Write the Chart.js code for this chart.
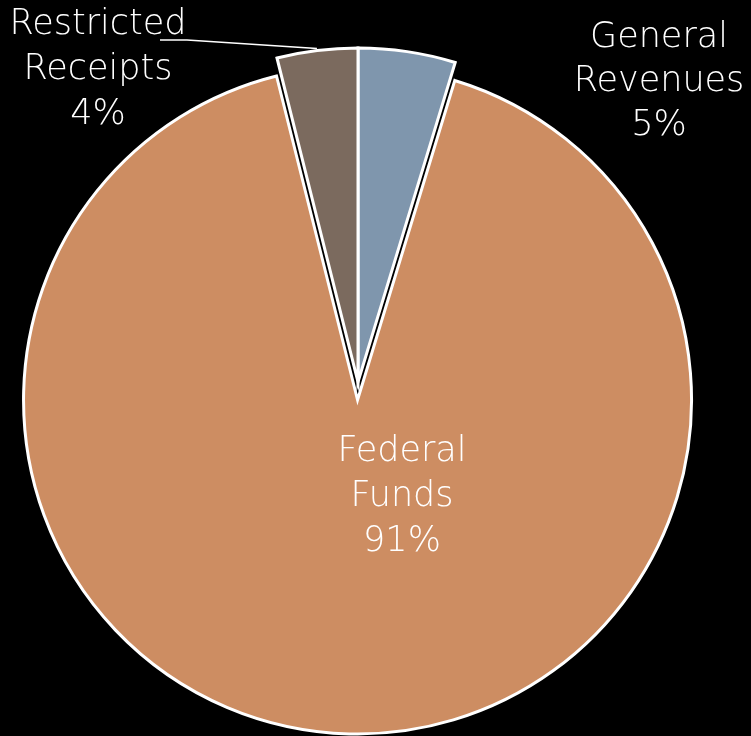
<!DOCTYPE html>
<html>
<head>
<meta charset="utf-8">
<script src="https://cdn.jsdelivr.net/npm/chart.js@4.4.1/dist/chart.umd.min.js"></script>
<style>
  html, body { margin: 0; padding: 0; background: #000; }
  #wrap { width: 751px; height: 736px; position: relative; }
</style>
</head>
<body>
<div id="wrap"><canvas id="pieChart"></canvas></div>
<script>
// slices, clockwise from the top
const categories = ["General Revenues", "Federal Funds", "Restricted Receipts"];
const shares = [4.7, 91.4, 3.9];
const shareLabels = ["5%", "91%", "4%"];
const sliceColors = ["#7F96AD", "#CD8D62", "#7B6A5E"];
const explode = [0, 18, 0]; // pixels each slice is pulled out

const FONT = "200 35px 'DejaVu Sans'";

// chart.js "offset" also grows the arc, so pull slices out by hand
const explodeSlices = {
    id: "explodeSlices",
    afterDatasetUpdate(chart, args) {
        args.meta.data.forEach((arc, i) => {
            const mid = (arc.startAngle + arc.endAngle) / 2;
            arc.x += Math.cos(mid) * explode[i];
            arc.y += Math.sin(mid) * explode[i];
        });
    }
};

// draw the category labels (split over two lines) and the leader line
const pieLabels = {
    id: "pieLabels",
    afterDatasetsDraw(chart) {
        const c = chart.ctx;
        const arcs = chart.getDatasetMeta(0).data;
        const cx = arcs[0].x, cy = arcs[0].y;
        c.save();
        c.font = FONT;
        c.fillStyle = "#fff";
        c.textAlign = "center";
        c.textBaseline = "middle";

        function block(i, x, y, gap) {
            const words = categories[i].split(" ");
            const lines = [words[0], words[1], shareLabels[i]];
            lines.forEach((t, k) => c.fillText(t, x, y + k * gap));
        }

        // general revenues, top right
        block(0, cx + 301, cy - 344, 44);
        // federal funds, inside the big slice
        block(1, cx + 44, cy + 70, 45);
        // restricted receipts, top left
        block(2, cx - 260, cy - 357, 45);

        // leader line from under "Restricted" to the slice
        const rr = arcs[2];
        const mid = (rr.startAngle + rr.endAngle) / 2;
        const r = rr.outerRadius + 2;
        c.strokeStyle = "#fff";
        c.lineWidth = 1.5;
        c.beginPath();
        c.moveTo(cx - 198, cy - 342);
        c.lineTo(cx - 171, cy - 342);
        c.lineTo(cx + Math.cos(mid) * r, cy + Math.sin(mid) * r);
        c.stroke();
        c.restore();
    }
};

const ctx = document.getElementById("pieChart").getContext("2d");

const chart = new Chart(ctx, {
    type: "pie",
    data: {
        labels: categories,
        datasets: [{
            data: shares,
            backgroundColor: sliceColors,
            borderColor: "#fff",
            borderWidth: 3,
            borderJoinStyle: "miter",
            clip: false
        }]
    },
    options: {
        responsive: true,
        maintainAspectRatio: false,
        animation: false,
        radius: 334,
        layout: { padding: { left: 0, right: 35, top: 28, bottom: 0 } },
        plugins: {
            legend: { display: false },
            tooltip: { enabled: false }
        }
    },
    plugins: [explodeSlices, pieLabels]
});
</script>
</body>
</html>
